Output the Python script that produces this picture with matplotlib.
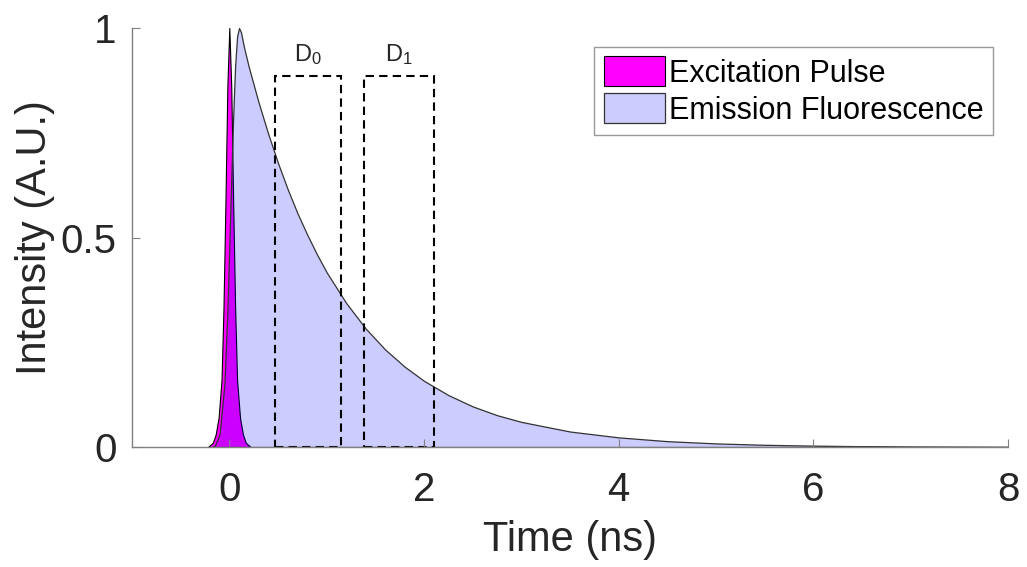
import matplotlib
matplotlib.use("Agg")
import matplotlib.pyplot as plt
from matplotlib.patches import Rectangle

plt.rcParams["font.family"] = ["Liberation Sans", "DejaVu Sans"]
plt.rcParams["mathtext.default"] = "regular"

# excitation pulse (ns, normalised intensity)
pulse_t = [-0.22, -0.17, -0.14, -0.11, -0.08, -0.06, -0.04, -0.02, 0.0,
           0.02, 0.04, 0.06, 0.08, 0.11, 0.14, 0.17, 0.22]
pulse_i = [0.0, 0.01, 0.03, 0.07, 0.16, 0.33, 0.58, 0.86, 1.0,
           0.86, 0.58, 0.33, 0.16, 0.07, 0.03, 0.01, 0.0]

# fluorescence emission (ns, normalised intensity)
emis_t = [-0.18, -0.15, -0.1, -0.05, -0.02, 0.0, 0.02, 0.04, 0.06, 0.08, 0.1,
          0.12, 0.15, 0.2, 0.3, 0.4, 0.5, 0.6, 0.7, 0.8, 0.9, 1.0, 1.2, 1.4,
          1.6, 1.8, 2.0, 2.25, 2.5, 2.75, 3.0, 3.5, 4.0, 4.5, 5.0, 5.5, 6.0,
          6.5, 7.0, 8.0]
emis_i = [0.0, 0.003, 0.03, 0.15, 0.32, 0.48, 0.64, 0.79, 0.91, 0.98, 1.0,
          0.99, 0.955, 0.907, 0.823, 0.747, 0.678, 0.615, 0.558, 0.507, 0.46,
          0.417, 0.344, 0.283, 0.233, 0.192, 0.158, 0.124, 0.097, 0.076, 0.06,
          0.037, 0.023, 0.014, 0.0086, 0.0053, 0.0033, 0.002, 0.0012, 0.0005]

# detection gates
gate_names = ["D$_0$", "D$_1$"]
gate_start = [0.47, 1.38]
gate_end = [1.15, 2.1]
gate_height = 0.885

fig = plt.figure(figsize=(10.27, 5.67), dpi=100)
ax = fig.add_axes([0.1285, 0.2116, 0.853, 0.739])

ax.fill_between(pulse_t, pulse_i, color="#ff00ff", edgecolor="black",
                linewidth=0.8, label="Excitation Pulse")
ax.fill_between(emis_t, emis_i, facecolor=(0, 0, 1, 0.2),
                edgecolor="#333333", linewidth=0.9,
                label="Emission Fluorescence")

for name, t0, t1 in zip(gate_names, gate_start, gate_end):
    ax.add_patch(Rectangle((t0, 0), t1 - t0, gate_height, fill=False,
                           edgecolor="black", linewidth=1.5,
                           linestyle=(0, (4, 2.5))))
    ax.text((t0 + t1) / 2, gate_height + 0.022, name, ha="center",
            va="bottom", fontsize=17, color="#262626")

ax.set_xlim(-1, 8)
ax.set_ylim(0, 1)
ax.set_xticks([0, 2, 4, 6, 8])
ax.set_yticks([0, 0.5, 1])
ax.set_yticklabels(["0", "0.5", "1"])
ax.tick_params(direction="in", length=6, width=0.8, colors="#808080",
               labelcolor="#262626", labelsize=29)
ax.tick_params(axis="x", pad=17)
ax.tick_params(axis="y", pad=11)

for side in ["top", "right"]:
    ax.spines[side].set_visible(False)
for side in ["left", "bottom"]:
    ax.spines[side].set_color("#808080")
    ax.spines[side].set_linewidth(1.0)

ax.set_xlabel("Time (ns)", fontsize=30, color="#262626", labelpad=8)
ax.set_ylabel("Intensity (A.U.)", fontsize=30, color="#262626", labelpad=4)

leg = ax.legend(loc="upper right", bbox_to_anchor=(0.983, 0.955),
                fontsize=22, frameon=True, fancybox=False, handlelength=2.0,
                handleheight=1.15, handletextpad=0.15, borderpad=0.3,
                labelspacing=0.15, borderaxespad=0)
leg.get_frame().set_edgecolor("#808080")
leg.get_frame().set_linewidth(1.0)

fig.savefig("out.png", dpi=100, facecolor="white")
